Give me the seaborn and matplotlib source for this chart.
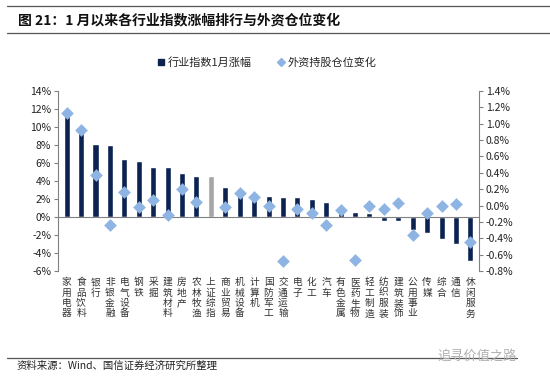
import matplotlib
matplotlib.use("Agg")
import matplotlib.pyplot as plt
import matplotlib.transforms as mtransforms
from matplotlib.lines import Line2D
from matplotlib.ticker import FixedLocator, FuncFormatter
import numpy as np
import pandas as pd
import seaborn as sns


categories = ['家用电器', '食品饮料', '银行', '非银金融', '电气设备', '钢铁', '采掘',
              '建筑材料', '房地产', '农林牧渔', '上证综指', '商业贸易', '机械设备',
              '计算机', '国防军工', '交通运输', '电子', '化工', '汽车', '有色金属',
              '医药生物', '轻工制造', '纺织服装', '建筑装饰', '公用事业', '传媒',
              '综合', '通信', '休闲服务']
index_change = [11.3, 9.4, 8.1, 7.95, 6.4, 6.2, 5.6, 5.6, 4.85, 4.6, 4.5, 3.3, 3.0,
                2.4, 2.3, 2.25, 2.2, 2.0, 1.7, 0.8, 0.5, 0.4, -0.45, -0.5, -1.45,
                -1.8, -2.4, -3.0, -4.85]
foreign_change = [1.13, 0.92, 0.37, -0.24, 0.16, -0.02, 0.065, -0.11, 0.2, 0.045,
                  np.nan, -0.02, 0.15, 0.105, -0.01, -0.68, -0.04, -0.09, -0.24,
                  -0.05, -0.67, 0.0, -0.04, 0.03, -0.36, -0.09, 0.0, 0.02, -0.45]
left_ticks = [-6, -4, -2, 0, 2, 4, 6, 8, 10, 12, 14]
right_ticks = [-0.8, -0.6, -0.4, -0.2, 0.0, 0.2, 0.4, 0.6, 0.8, 1.0, 1.2, 1.4]

NAVY = '#0c2352'
GREY = '#a6a6a6'
LIGHT = '#8db4e2'

sns.set_style('white')
plt.rcParams['font.family'] = ['Noto Sans CJK SC', 'DejaVu Sans']
plt.rcParams['axes.unicode_minus'] = False

df = pd.DataFrame({'industry': categories, 'index': index_change, 'foreign': foreign_change})
palette = [GREY if c == '上证综指' else NAVY for c in categories]

fig = plt.figure(figsize=(5.5, 3.8), dpi=100)
ax = fig.add_axes([0.1055, 0.287, 0.7655, 0.4735])

sns.barplot(data=df, x='industry', y='index', hue='industry', palette=palette,
            width=0.42, legend=False, ax=ax, saturation=1)
ax.set_ylim(-6, 14)
ax.set_xlim(-0.6, len(categories) - 0.4)
ax.yaxis.set_major_locator(FixedLocator(left_ticks))
ax.yaxis.set_major_formatter(FuncFormatter(lambda v, p: f'{v:.0f}%'))
ax.set_xlabel('')
ax.set_ylabel('')

# x axis sits on the zero line, ticks between categories
ax.spines['bottom'].set_position(('data', 0))
ax.spines['bottom'].set_color('#808080')
ax.spines['bottom'].set_linewidth(0.8)
ax.spines['top'].set_visible(False)
ax.spines['right'].set_visible(False)
ax.spines['left'].set_color('#808080')
ax.spines['left'].set_linewidth(0.8)
ax.set_xticks([])
ax.set_xticks(np.arange(len(categories) + 1) - 0.5, minor=True)
ax.tick_params(axis='x', which='minor', direction='out', length=3, color='#808080', width=0.8)
ax.tick_params(axis='y', direction='out', length=3, color='#808080', width=0.8,
               labelsize=7.5, labelcolor='#222222', left=True, pad=2)

# vertical category labels below the axes
trans = mtransforms.blended_transform_factory(ax.transData, ax.transAxes)
for i, name in enumerate(categories):
    ax.text(i, -0.035, '\n'.join(name), transform=trans, ha='center', va='top',
            fontsize=7, linespacing=1.05, color='#333333')

ax2 = ax.twinx()
sns.scatterplot(data=df, x='industry', y='foreign', marker='D', s=42, color=LIGHT,
                edgecolor=LIGHT, linewidth=0, ax=ax2, zorder=5)
ax2.set_ylim(-0.8, 1.4)
ax2.yaxis.set_major_locator(FixedLocator(right_ticks))
ax2.yaxis.set_major_formatter(FuncFormatter(lambda v, p: f'{v:.1f}%'))
ax2.set_xlabel('')
ax2.set_ylabel('')
for side in ['top', 'left', 'bottom']:
    ax2.spines[side].set_visible(False)
ax2.spines['right'].set_color('#808080')
ax2.spines['right'].set_linewidth(0.8)
ax2.tick_params(axis='y', direction='out', length=3, color='#808080', width=0.8,
                labelsize=7.5, labelcolor='#222222', right=True, pad=2)
ax2.set_xticks([])

handles = [
    Line2D([], [], marker='s', linestyle='none', color=NAVY, markersize=5),
    Line2D([], [], marker='D', linestyle='none', color=LIGHT, markersize=4.5),
]
fig.legend(handles, ['行业指数1月涨幅', '外资持股仓位变化'], loc='center',
           bbox_to_anchor=(0.485, 0.836), ncol=2, frameon=False, fontsize=8,
           handletextpad=0.2, columnspacing=2.2, handlelength=0.8)

# title block and rules
fig.add_artist(Line2D([0.012, 1.0], [0.984, 0.984], color='#555555', lw=0.9))
fig.add_artist(Line2D([0.012, 1.0], [0.913, 0.913], color='#555555', lw=0.9))
fig.add_artist(Line2D([0.012, 0.94], [0.058, 0.058], color='#555555', lw=0.9))
fig.text(0.032, 0.947, '图 21：1 月以来各行业指数涨幅排行与外资仓位变化',
         fontsize=10, fontweight='bold', va='center', ha='left', color='#111111')
fig.text(0.03, 0.037, '资料来源：Wind、国信证券经济研究所整理', fontsize=7.5,
         va='center', ha='left', color='#222222')
fig.text(0.94, 0.062, '追寻价值之路', fontsize=9.5, va='center', ha='right',
         color='#b0b0b0')

fig.savefig('out.png', dpi=100)
